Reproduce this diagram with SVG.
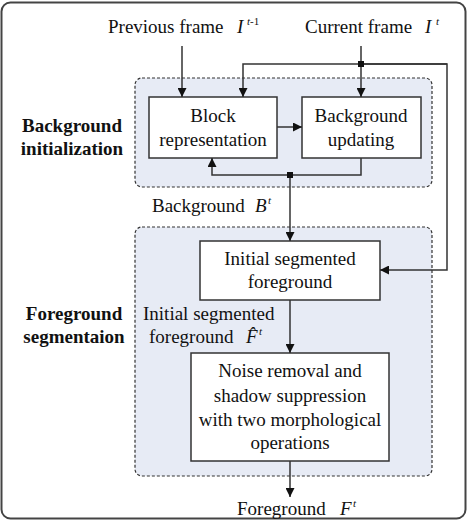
<svg xmlns="http://www.w3.org/2000/svg" width="467" height="521" viewBox="0 0 467 521">
<style>
.t{font-family:"Liberation Serif","Times New Roman",serif;font-size:19px;fill:#111}
.b{font-weight:bold}
.i{font-style:italic}
.s{font-size:11px}
.grp{fill:#e7ebf5;stroke:#333;stroke-width:1.2;stroke-dasharray:3,2}
.box{fill:#fff;stroke:#333;stroke-width:1.5}
.ln{fill:none;stroke:#333;stroke-width:1.5}
</style>
<defs>
<marker id="ah" viewBox="0 0 10 10" refX="10" refY="5" markerWidth="9" markerHeight="9" markerUnits="userSpaceOnUse" orient="auto">
<path d="M0,0 L10,5 L0,10 z" fill="#111"/>
</marker>
</defs>
<rect x="1.5" y="2.5" width="464" height="516" rx="9" fill="#fff" stroke="#444" stroke-width="2"/>
<g id="grp-bg">
<rect class="grp" x="135" y="78" width="297" height="109" rx="7"/>
<text class="t b" x="72" y="132" text-anchor="middle">Background</text>
<text class="t b" x="72" y="155" text-anchor="middle">initialization</text>
</g>
<g id="grp-fg">
<rect class="grp" x="135" y="227" width="297" height="249" rx="7"/>
<text class="t b" x="74" y="320" text-anchor="middle">Foreground</text>
<text class="t b" x="74" y="343" text-anchor="middle">segmentaion</text>
</g>
<g id="in-prev">
<text class="t" x="108" y="33">Previous frame <tspan class="i" x="237">I</tspan><tspan class="i s" x="247" y="25">t</tspan><tspan class="s" y="25">-1</tspan></text>
</g>
<g id="in-cur">
<text class="t" x="305" y="33">Current frame <tspan class="i" x="425">I</tspan><tspan class="i s" x="436" y="25">t</tspan></text>
</g>
<g id="block">
<rect class="box" x="149" y="97" width="128" height="61"/>
<text class="t" x="213" y="122" text-anchor="middle">Block</text>
<text class="t" x="213" y="146" text-anchor="middle">representation</text>
</g>
<g id="update">
<rect class="box" x="302" y="97" width="119" height="61"/>
<text class="t" x="361" y="122" text-anchor="middle">Background</text>
<text class="t" x="361" y="146" text-anchor="middle">updating</text>
</g>
<g id="lbl-bg">
<text class="t" x="152" y="212">Background <tspan class="i" x="255">B</tspan><tspan class="i s" x="268" y="204">t</tspan></text>
</g>
<g id="initseg">
<rect class="box" x="200" y="241" width="180" height="59"/>
<text class="t" x="290" y="265" text-anchor="middle">Initial segmented</text>
<text class="t" x="290" y="288" text-anchor="middle">foreground</text>
</g>
<g id="lbl-init">
<text class="t" x="143" y="320">Initial segmented</text>
<text class="t" x="149" y="343">foreground <tspan class="i" x="246">F̂</tspan><tspan class="i s" x="259" y="335">t</tspan></text>
</g>
<g id="noise">
<rect class="box" x="191" y="353" width="198" height="108"/>
<text class="t" x="290" y="377" text-anchor="middle">Noise removal and</text>
<text class="t" x="290" y="402" text-anchor="middle">shadow suppression</text>
<text class="t" x="290" y="426" text-anchor="middle">with two morphological</text>
<text class="t" x="290" y="449" text-anchor="middle">operations</text>
</g>
<g id="out-fg">
<text class="t" x="237" y="515">Foreground <tspan class="i" x="340">F</tspan><tspan class="i s" x="353" y="507">t</tspan></text>
</g>
<g id="connectors">
<line class="ln" x1="182" y1="46" x2="182" y2="97" marker-end="url(#ah)"/>
<line class="ln" x1="361" y1="46" x2="361" y2="97" marker-end="url(#ah)"/>
<polyline class="ln" points="447,64 243,64 243,97" marker-end="url(#ah)"/>
<polyline class="ln" points="361,64 447,64 447,270 380,270" marker-end="url(#ah)"/>
<line class="ln" x1="277" y1="127" x2="302" y2="127" marker-end="url(#ah)"/>
<polyline class="ln" points="361,158 361,175 212,175 212,158" marker-end="url(#ah)"/>
<line class="ln" x1="290" y1="175" x2="290" y2="241" marker-end="url(#ah)"/>
<line class="ln" x1="290" y1="300" x2="290" y2="353" marker-end="url(#ah)"/>
<line class="ln" x1="290" y1="461" x2="290" y2="497" marker-end="url(#ah)"/>
<rect x="358" y="61" width="6" height="6" fill="#111"/>
<rect x="287" y="172" width="6" height="6" fill="#111"/>
</g>
</svg>
